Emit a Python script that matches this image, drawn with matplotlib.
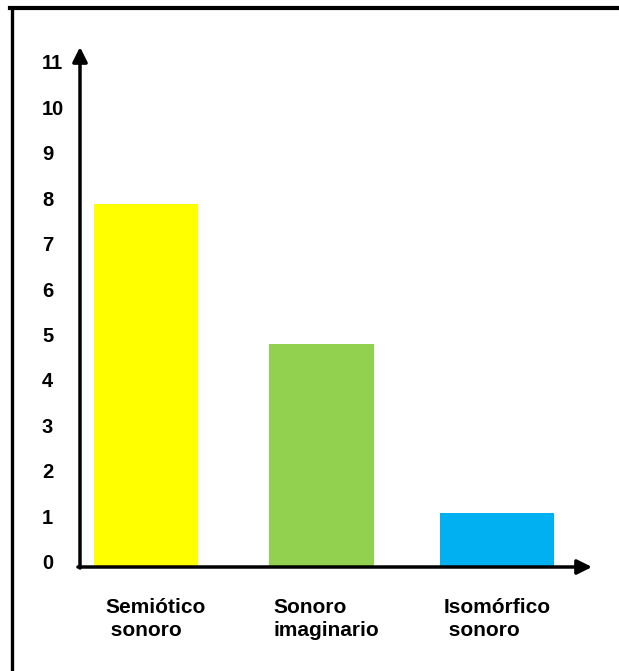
import matplotlib
matplotlib.use("Agg")
import matplotlib.pyplot as plt
from matplotlib.lines import Line2D
from matplotlib.transforms import ScaledTranslation

categories = ["Semiótico\n sonoro", "Sonoro\nimaginario", "Isomórfico\n sonoro"]
values = [8, 4.9, 1.2]
colors = ["#FFFF00", "#92D050", "#00B0F0"]
yticks = list(range(0, 12))

plt.rcParams['font.family'] = ['Liberation Sans', 'DejaVu Sans']

fig = plt.figure(figsize=(6.19, 6.71), dpi=100)
ax = fig.add_axes([80/619, 104/671, 512/619, 520/671])

x = list(range(len(values)))
widths = [0.59, 0.6, 0.65]
ax.bar(x, values, width=widths, color=colors, zorder=2)

ax.set_xlim(-0.376, 2.54)
ax.set_ylim(0, 11.45)

for s in ax.spines.values():
    s.set_visible(False)

ax.set_yticks(yticks)
ax.set_yticklabels([str(t) for t in yticks], fontsize=14.5, fontweight='bold', ha='left')
ax.tick_params(axis='y', length=0, pad=27.4)
off = ScaledTranslation(0, 5.5/100, fig.dpi_scale_trans)
for lab in ax.get_yticklabels():
    lab.set_transform(lab.get_transform() + off)

ax.set_xticks([])
label_dx = [8, 3, 2.3]  # points from bar left edge
for xi, w, lab, dx in zip(x, widths, categories, label_dx):
    ax.annotate(lab, xy=(xi - w/2, 0), xycoords='data', xytext=(dx, -22),
                textcoords='offset points', ha='left', va='top',
                fontsize=15, fontweight='bold', linespacing=1.3, annotation_clip=False)

# axes arrows
ax.annotate('', xy=(0, 1), xytext=(0, -0.002), xycoords='axes fraction',
            arrowprops=dict(arrowstyle='-|>', lw=2.5, color='black', mutation_scale=22,
                            shrinkA=0, shrinkB=0), zorder=3)
ax.annotate('', xy=(1, 0), xytext=(-0.004, 0), xycoords='axes fraction',
            arrowprops=dict(arrowstyle='-|>', lw=2.5, color='black', mutation_scale=22,
                            shrinkA=0, shrinkB=0), zorder=3)

# figure border (top and left)
fig.add_artist(Line2D([10/619, 1], [1 - 8/671, 1 - 8/671], color='black', lw=3, transform=fig.transFigure))
fig.add_artist(Line2D([12/619, 12/619], [0, 1 - 8/671], color='black', lw=2.4, transform=fig.transFigure))

fig.savefig("out.png", dpi=100)
